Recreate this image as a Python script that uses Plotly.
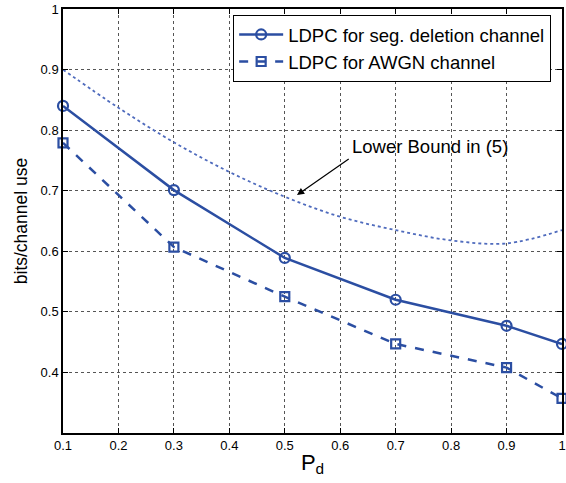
import plotly.graph_objects as go

pd_vals = [0.1, 0.3, 0.5, 0.7, 0.9, 1.0]
ldpc_seg = [0.840, 0.701, 0.589, 0.520, 0.477, 0.447]
ldpc_awgn = [0.779, 0.607, 0.525, 0.447, 0.408, 0.357]

lb_x = [0.1, 0.2, 0.3, 0.4, 0.5, 0.6, 0.7, 0.8, 0.9, 1.0]
lb_y = [0.900, 0.837, 0.780, 0.731, 0.690, 0.657, 0.635, 0.618, 0.613, 0.635]

x_ticks = [0.1, 0.2, 0.3, 0.4, 0.5, 0.6, 0.7, 0.8, 0.9, 1.0]
x_tick_labels = ["0.1", "0.2", "0.3", "0.4", "0.5", "0.6", "0.7", "0.8", "0.9", "1"]
y_ticks = [0.3, 0.4, 0.5, 0.6, 0.7, 0.8, 0.9, 1.0]
y_tick_labels = ["", "0.4", "0.5", "0.6", "0.7", "0.8", "0.9", "1"]

blue = "#2b4ea2"
font = "Liberation Sans, Arial, Helvetica, sans-serif"

fig = go.Figure()
fig.add_trace(go.Scatter(
    x=lb_x, y=lb_y, mode="lines", line=dict(color="#4f6bbd", width=1.8, dash="dot", shape="spline"),
    showlegend=False, hoverinfo="skip", cliponaxis=False))
fig.add_trace(go.Scatter(
    x=pd_vals, y=ldpc_seg, mode="lines+markers", name="LDPC for seg. deletion channel",
    line=dict(color=blue, width=2.5), cliponaxis=False,
    marker=dict(symbol="circle-open", size=10, color=blue, line=dict(width=2.2, color=blue))))
fig.add_trace(go.Scatter(
    x=pd_vals, y=ldpc_awgn, mode="lines+markers", name="LDPC for AWGN channel",
    line=dict(color=blue, width=2.5, dash="dash"), cliponaxis=False,
    marker=dict(symbol="square-open", size=9, color=blue, line=dict(width=2.2, color=blue))))

fig.add_annotation(
    x=0.522, y=0.693, ax=0.618, ay=0.754, axref="x", ayref="y",
    xref="x", yref="y", showarrow=True, arrowhead=2, arrowsize=1.2, arrowwidth=1.2,
    arrowcolor="black", text="", standoff=0)
fig.add_annotation(
    x=0.618, y=0.773, xref="x", yref="y", xanchor="left", text="Lower Bound in (5)", showarrow=False,
    font=dict(size=18.5, color="black", family=font))

axis_common = dict(
    showline=True, linecolor="black", linewidth=1.5, mirror="ticks",
    ticks="inside", ticklen=5, tickcolor="black",
    showgrid=True, gridcolor="#555555", gridwidth=1, griddash="dot",
    zeroline=False, tickfont=dict(size=13, color="black", family=font),
    automargin=False,
)

fig.update_layout(
    width=566, height=483,
    margin=dict(l=63, r=4, t=9, b=50),
    paper_bgcolor="white", plot_bgcolor="white",
    font=dict(family=font, color="black"),
    xaxis=dict(range=[0.1, 1.0], tickvals=x_ticks, ticktext=x_tick_labels,
               title=dict(text="P<sub>d</sub>", font=dict(size=22), standoff=2), **axis_common),
    yaxis=dict(range=[0.3, 1.0], tickvals=y_ticks, ticktext=y_tick_labels,
               title=dict(text="bits/channel use", font=dict(size=17.5), standoff=8), **axis_common),
    legend=dict(x=0.341, y=0.986, xanchor="left", yanchor="top",
                bgcolor="white", bordercolor="black", borderwidth=1,
                font=dict(size=18.5, color="black", family=font),
                itemwidth=44, tracegroupgap=0),
    showlegend=True,
)

fig.write_html("out.html", config={"displayModeBar": False},
               post_script="document.body.style.margin='0';document.body.style.overflow='hidden';")
